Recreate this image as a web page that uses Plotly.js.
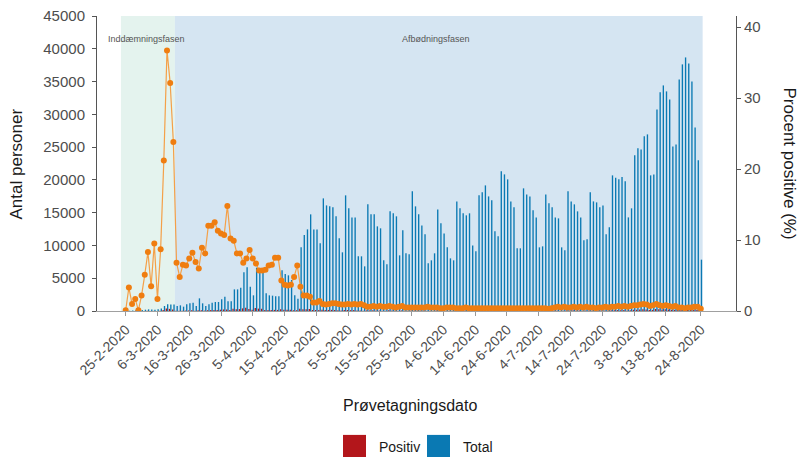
<!DOCTYPE html>
<html>
<head>
<meta charset="utf-8">
<script src="https://cdn.plot.ly/plotly-3.0.1.min.js"></script>
<style>html,body{margin:0;padding:0;background:#fff;}#chart{width:800px;height:457px;}</style>
</head>
<body>
<div id="chart"></div>
<script>
// ---- data ----
var startDate = '2020-02-25';
var totals = [
  20, 40, 80, 100, 150, 170, 200, 250, 220, 180,
  280, 400, 760, 1020, 1000, 1000, 760, 860, 660, 1020,
  1170, 1270, 760, 1930, 1170, 760, 1020, 1270, 1370, 1370,
  1780, 2190, 1470, 1470, 3300, 3300, 3560, 5900, 6660, 3710,
  2390, 6610, 6350, 6000, 2690, 2390, 2340, 2240, 2240, 6200,
  5640, 5440, 4730, 2390, 1880, 9710, 11590, 12450, 14740, 12450,
  12450, 10320, 17180, 16110, 15960, 15810, 14440, 11080, 8950, 17640,
  15660, 14280, 14280, 8340, 8340, 6810, 16270, 14740, 14740, 12910,
  12610, 7730, 7120, 15200, 14900, 14440, 8490, 12300, 8800, 8640,
  18250, 15960, 14740, 13060, 11690, 7270, 7730, 8800, 15500, 13370,
  11840, 9710, 8030, 7730, 16720, 15660, 14900, 14590, 14900, 10010,
  9100, 17640, 18100, 19160, 17480, 16880, 12150, 11390, 21300, 20840,
  20080, 16720, 15810, 9560, 9560, 18710, 17790, 17480, 15350, 14280,
  9710, 9860, 17790, 16420, 15810, 14280, 14130, 9710, 9250, 18250,
  16720, 16270, 15200, 14280, 10780, 10930, 18100, 16720, 16570, 15810,
  16110, 11690, 12760, 20690, 20330, 20080, 20430, 19780, 14280, 15660,
  23740, 24810, 24650, 26640, 26940, 20690, 20840, 30750, 33350, 34410,
  33500, 32280, 25110, 25410, 35330, 37620, 38680, 37770, 35020, 28010,
  22980, 7830
];
var positives = [
  0, 1, 1, 2, 0, 4, 10, 21, 8, 17,
  5, 35, 161, 373, 326, 242, 52, 41, 43, 65,
  87, 104, 52, 116, 104, 62, 122, 152, 171, 155,
  194, 234, 218, 150, 327, 267, 288, 401, 493, 319,
  177, 443, 362, 342, 156, 153, 152, 168, 168, 267,
  209, 196, 175, 115, 120, 330, 255, 274, 295, 149,
  149, 144, 172, 145, 160, 174, 159, 111, 81, 159,
  157, 129, 143, 75, 83, 54, 98, 88, 103, 77,
  88, 46, 43, 106, 89, 72, 51, 86, 44, 43,
  91, 80, 74, 65, 58, 44, 39, 44, 78, 53,
  47, 49, 40, 39, 67, 63, 60, 73, 60, 40,
  36, 71, 54, 77, 70, 68, 49, 46, 64, 63,
  60, 50, 63, 29, 38, 75, 53, 52, 46, 43,
  29, 30, 71, 49, 63, 71, 85, 49, 56, 91,
  84, 98, 76, 86, 54, 66, 91, 84, 66, 79,
  81, 70, 64, 124, 122, 141, 123, 138, 86, 110,
  190, 198, 222, 266, 242, 145, 167, 308, 267, 241,
  268, 226, 151, 178, 177, 188, 155, 189, 175, 168,
  138, 23
];
var percentPositive = [
  0.1, 3.3, 1.0, 1.7, 0.1, 2.2, 5.1, 8.3, 3.5, 9.5,
  1.7, 8.7, 21.2, 36.7, 32.1, 23.8, 6.8, 4.8, 6.5, 6.4,
  7.4, 8.2, 6.9, 6.0, 8.9, 8.1, 12.0, 12.0, 12.5, 11.3,
  10.9, 10.7, 14.8, 10.2, 9.9, 8.1, 8.1, 6.8, 7.4, 8.6,
  7.4, 6.7, 5.7, 5.7, 5.8, 6.4, 6.5, 7.5, 7.5, 4.3,
  3.7, 3.6, 3.7, 4.8, 6.4, 3.4, 2.2, 2.2, 2.0, 1.2,
  1.2, 1.4, 1.0, 0.9, 1.0, 1.1, 1.1, 1.0, 0.9, 0.9,
  1.0, 0.9, 1.0, 0.9, 1.0, 0.8, 0.6, 0.6, 0.7, 0.6,
  0.7, 0.6, 0.6, 0.7, 0.6, 0.5, 0.6, 0.7, 0.5, 0.5,
  0.5, 0.5, 0.5, 0.5, 0.5, 0.6, 0.5, 0.5, 0.5, 0.4,
  0.4, 0.5, 0.5, 0.5, 0.4, 0.4, 0.4, 0.5, 0.4, 0.4,
  0.4, 0.4, 0.4, 0.4, 0.4, 0.4, 0.4, 0.4, 0.4, 0.4,
  0.4, 0.4, 0.4, 0.4, 0.4, 0.4, 0.4, 0.4, 0.4, 0.4,
  0.4, 0.4, 0.4, 0.3, 0.4, 0.5, 0.6, 0.5, 0.6, 0.5,
  0.5, 0.6, 0.5, 0.6, 0.5, 0.6, 0.5, 0.5, 0.4, 0.5,
  0.5, 0.6, 0.5, 0.6, 0.6, 0.7, 0.6, 0.7, 0.6, 0.7,
  0.8, 0.8, 0.9, 1.0, 0.9, 0.7, 0.8, 1.0, 0.8, 0.7,
  0.8, 0.7, 0.6, 0.7, 0.5, 0.5, 0.4, 0.5, 0.5, 0.6,
  0.6, 0.3
];
var tickLabels = ['25-2-2020','6-3-2020','16-3-2020','26-3-2020','5-4-2020','15-4-2020','25-4-2020',
  '5-5-2020','15-5-2020','25-5-2020','4-6-2020','14-6-2020','24-6-2020','4-7-2020','14-7-2020',
  '24-7-2020','3-8-2020','13-8-2020','24-8-2020'];
var phaseNames = ['Inddæmningsfasen', 'Afbødningsfasen'];
var seriesNames = ['Positiv', 'Total'];
var yLeftTicks = [0, 5000, 10000, 15000, 20000, 25000, 30000, 35000, 40000, 45000];
var yRightTicks = [0, 10, 20, 30, 40];

// ---- build dates ----
function pad(n){ return (n < 10 ? '0' : '') + n; }
function iso(d){ return d.getUTCFullYear() + '-' + pad(d.getUTCMonth()+1) + '-' + pad(d.getUTCDate()); }
var dates = [];
var s = new Date(startDate + 'T00:00:00Z');
for (var i = 0; i < totals.length; i++) {
  dates.push(iso(new Date(s.getTime() + i * 86400000)));
}
var tickVals = tickLabels.map(function(t){
  var p = t.split('-');
  return p[2] + '-' + pad(+p[1]) + '-' + pad(+p[0]);
});

var FONT = 'Liberation Sans, Arial, sans-serif';
var RED = '#b3161b', BLUE = '#0a79b3', ORANGE = '#ef7d10';

var traces = [
  {type:'bar', name:seriesNames[0], x:dates, y:positives, marker:{color:RED}, hoverinfo:'x+y'},
  {type:'bar', name:seriesNames[1], x:dates, y:totals, marker:{color:BLUE}, hoverinfo:'x+y'},
  {type:'scatter', mode:'lines+markers', name:'Procent positive', x:dates, y:percentPositive, yaxis:'y2',
   line:{color:'#f4a048', width:1.2}, marker:{color:ORANGE, size:6}}
];

var layout = {
  width:800, height:457,
  margin:{l:97, r:64, t:16, b:146},
  paper_bgcolor:'#fff', plot_bgcolor:'rgba(0,0,0,0)',
  showlegend:false,
  barmode:'group', bargap:0.15, bargroupgap:0,
  font:{family:FONT, color:'#4d4d4d'},
  xaxis:{
    type:'date', range:['2020-02-15T23:17:00','2020-09-04T02:00:00'],
    tickmode:'array', tickvals:tickVals, ticktext:tickLabels, tickangle:-45,
    ticks:'outside', ticklen:4, tickcolor:'#999', showline:true, linecolor:'#a0a0a0', linewidth:1,
    showgrid:false, zeroline:false, tickfont:{size:14, color:'#4d4d4d'}, fixedrange:true
  },
  yaxis:{
    range:[0,45000], tickmode:'array', tickvals:yLeftTicks, ticktext:yLeftTicks.map(String),
    ticks:'outside', ticklen:4, tickcolor:'#555', showline:true, linecolor:'#555', linewidth:1,
    ticklabelstandoff:4,
    showgrid:false, zeroline:false, tickfont:{size:15, color:'#4d4d4d'}
  },
  yaxis2:{
    overlaying:'y', side:'right', range:[0,41.55], tickmode:'array', tickvals:yRightTicks,
    ticks:'outside', ticklen:4, tickcolor:'#555', showline:true, linecolor:'#555', linewidth:1,
    showgrid:false, zeroline:false, tickfont:{size:15, color:'#4d4d4d'}
  },
  shapes:[
    {type:'rect', xref:'x', yref:'paper', x0:'2020-02-23T12:00:00', x1:'2020-03-11T12:00:00', y0:0, y1:1,
     fillcolor:'#e4f3ee', line:{width:0}, layer:'below'},
    {type:'rect', xref:'x', yref:'paper', x0:'2020-03-11T12:00:00', x1:'2020-08-24T14:00:00', y0:0, y1:1,
     fillcolor:'#d5e5f2', line:{width:0}, layer:'below'},
    {type:'rect', xref:'paper', yref:'paper', x0:0.385, x1:0.421, y0:-0.498, y1:-0.420,
     fillcolor:RED, line:{width:0}},
    {type:'rect', xref:'paper', yref:'paper', x0:0.5164, x1:0.5524, y0:-0.498, y1:-0.420,
     fillcolor:BLUE, line:{width:0}}
  ],
  annotations:[
    {text:phaseNames[0], xref:'x', yref:'paper', x:'2020-03-02T12:00:00', y:0.922, xanchor:'center', yanchor:'middle', showarrow:false,
     font:{size:9, color:'#555', family:FONT}},
    {text:phaseNames[1], xref:'x', yref:'paper', x:'2020-06-01T18:00:00', y:0.922, xanchor:'center', yanchor:'middle', showarrow:false,
     font:{size:9, color:'#555', family:FONT}},
    {text:'Prøvetagningsdato', xref:'paper', yref:'paper', x:0.49, y:-0.322, xanchor:'center', yanchor:'middle', showarrow:false,
     font:{size:16, color:'#1a1a1a', family:FONT}},
    {text:'Antal personer', xref:'paper', yref:'paper', x:-0.1252, y:0.5, xanchor:'center', yanchor:'middle', textangle:-90, showarrow:false,
     font:{size:17, color:'#1a1a1a', family:FONT}},
    {text:'Procent positive (%)', xref:'paper', yref:'paper', x:1.0845, y:0.5, xanchor:'center', yanchor:'middle', textangle:90, showarrow:false,
     font:{size:17, color:'#1a1a1a', family:FONT}},
    {text:seriesNames[0], xref:'paper', yref:'paper', x:0.438, y:-0.461, xanchor:'left', yanchor:'middle', showarrow:false,
     font:{size:14, color:'#1a1a1a', family:FONT}},
    {text:seriesNames[1], xref:'paper', yref:'paper', x:0.5696, y:-0.461, xanchor:'left', yanchor:'middle', showarrow:false,
     font:{size:14, color:'#1a1a1a', family:FONT}}
  ]
};

Plotly.newPlot('chart', traces, layout, {staticPlot:true, displayModeBar:false});
</script>
</body>
</html>
